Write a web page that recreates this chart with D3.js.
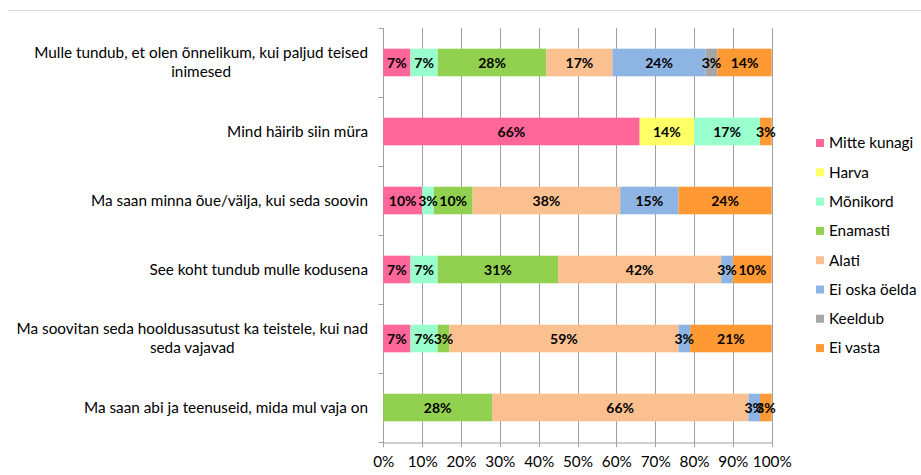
<!DOCTYPE html>
<html>
<head>
<meta charset="utf-8">
<script src="https://cdn.jsdelivr.net/npm/d3@7"></script>
<style>
  body { margin: 0; background: #fff; }
  svg text { font-family: Lato, "Liberation Sans", sans-serif; fill: #000; }
</style>
</head>
<body>
<div id="chart"></div>
<script>
const categories = [
  'Mulle tundub, et olen õnnelikum, kui paljud teised inimesed',
  'Mind häirib siin müra',
  'Ma saan minna õue/välja, kui seda soovin',
  'See koht tundub mulle kodusena',
  'Ma soovitan seda hooldusasutust ka teistele, kui nad seda vajavad',
  'Ma saan abi ja teenuseid, mida mul vaja on'
];
const seriesNames = ['Mitte kunagi', 'Harva', 'Mõnikord', 'Enamasti', 'Alati', 'Ei oska öelda', 'Keeldub', 'Ei vasta'];
const mitteKunagi = [7, 66, 10, 7, 7, 0];
const harva       = [0, 14, 0, 0, 0, 0];
const monikord    = [7, 17, 3, 7, 7, 0];
const enamasti    = [28, 0, 10, 31, 3, 28];
const alati       = [17, 0, 38, 42, 59, 66];
const eiOska      = [24, 0, 15, 3, 3, 3];
const keeldub     = [3, 0, 0, 0, 0, 0];
const eiVasta     = [14, 3, 24, 10, 21, 3];
const xTicks = [0, 10, 20, 30, 40, 50, 60, 70, 80, 90, 100];
const colors = ['#ff6699', '#ffff66', '#99ffcc', '#92d050', '#fac090', '#8eb4e3', '#a6a6a6', '#ff9933'];

const W = 921, H = 475;
const X0 = 383.3, X1 = 771.7, Y0 = 28, Y1 = 442;
const FS = '15.3px';

const allSeries = [mitteKunagi, harva, monikord, enamasti, alati, eiOska, keeldub, eiVasta];
const rows = categories.map((c, i) => {
  const r = {cat: c};
  seriesNames.forEach((s, j) => r[s] = allSeries[j][i]);
  return r;
});
const stacked = d3.stack().keys(seriesNames)(rows);

const svg = d3.select('#chart').append('svg')
  .attr('width', W).attr('height', H);

// chart frame top edge
svg.append('line')
  .attr('x1', 8).attr('x2', W).attr('y1', 10.5).attr('y2', 10.5)
  .attr('stroke', '#d9d9d9');

const x = d3.scaleLinear().domain([0, 100]).range([X0, X1]);
const y = d3.scaleBand().domain(categories).range([Y0, Y1])
  .paddingInner(0.6).paddingOuter(0.3);

// gridlines
svg.append('g').selectAll('line').data(xTicks).enter().append('line')
  .attr('x1', d => Math.round(x(d)) + 0.5).attr('x2', d => Math.round(x(d)) + 0.5)
  .attr('y1', Y0).attr('y2', Y1 + 5)
  .attr('stroke', '#a0a0a0');

// x axis
const xAxis = svg.append('g')
  .attr('transform', `translate(0,${Y1 + 0.5})`)
  .call(d3.axisBottom(x).tickValues(xTicks).tickFormat(d => d + '%').tickSize(0).tickPadding(14));
xAxis.select('.domain').attr('stroke', '#a0a0a0');
xAxis.selectAll('text').style('font-size', FS);

// y axis
const yAxis = svg.append('g').attr('transform', `translate(${Math.round(X0) + 0.5},0)`);
yAxis.append('line').attr('y1', Y0).attr('y2', Y1).attr('stroke', '#a0a0a0');
const bounds = categories.map((c, i) => Y0 + i * y.step()).concat([Y1]);
yAxis.selectAll('.yt').data(bounds).enter().append('line')
  .attr('x1', -5).attr('x2', 0)
  .attr('y1', d => Math.round(d) + 0.5).attr('y2', d => Math.round(d) + 0.5)
  .attr('stroke', '#a0a0a0');

// bars
const layers = svg.append('g').selectAll('g').data(stacked).enter().append('g')
  .attr('fill', (d, i) => colors[i]);
layers.selectAll('rect').data(d => d).enter().append('rect')
  .attr('x', d => x(d[0]))
  .attr('width', d => x(d[1]) - x(d[0]))
  .attr('y', d => y(d.data.cat))
  .attr('height', y.bandwidth());

// value labels
const vl = svg.append('g');
stacked.forEach(layer => {
  layer.forEach(d => {
    const v = d[1] - d[0];
    if (v <= 0) return;
    vl.append('text')
      .attr('x', (x(d[0]) + x(d[1])) / 2)
      .attr('y', y(d.data.cat) + y.bandwidth() / 2)
      .attr('dy', '0.36em')
      .attr('text-anchor', 'middle')
      .style('font-size', '14px')
      .style('font-weight', 'bold')
      .text(v + '%');
  });
});

// category labels
const LX = 368, maxW = 352, lineH = 19;
categories.forEach(c => {
  const g = svg.append('g');
  const words = c.split(' ');
  const lines = [];
  let cur = '';
  const probe = g.append('text').style('font-size', FS);
  words.forEach(w => {
    const test = cur ? cur + ' ' + w : w;
    probe.text(test);
    if (probe.node().getComputedTextLength() > maxW && cur) {
      lines.push(cur); cur = w;
    } else cur = test;
  });
  lines.push(cur);
  probe.remove();
  const texts = lines.map(l => g.append('text').style('font-size', FS).text(l));
  const widest = d3.max(texts, t => t.node().getComputedTextLength());
  const cy = y(c) + y.bandwidth() / 2;
  texts.forEach((t, i) => {
    t.attr('x', LX - widest / 2)
      .attr('text-anchor', 'middle')
      .attr('y', cy + (i - (lines.length - 1) / 2) * lineH)
      .attr('dy', '0.35em');
  });
});

// legend
const legend = svg.append('g').attr('transform', 'translate(816,143)');
seriesNames.forEach((s, i) => {
  const g = legend.append('g').attr('transform', `translate(0,${i * 29.3})`);
  g.append('rect').attr('x', 0).attr('y', -4).attr('width', 8).attr('height', 8).attr('fill', colors[i]);
  g.append('text').attr('x', 13).attr('dy', '0.35em').style('font-size', FS).text(s);
});
</script>
</body>
</html>
